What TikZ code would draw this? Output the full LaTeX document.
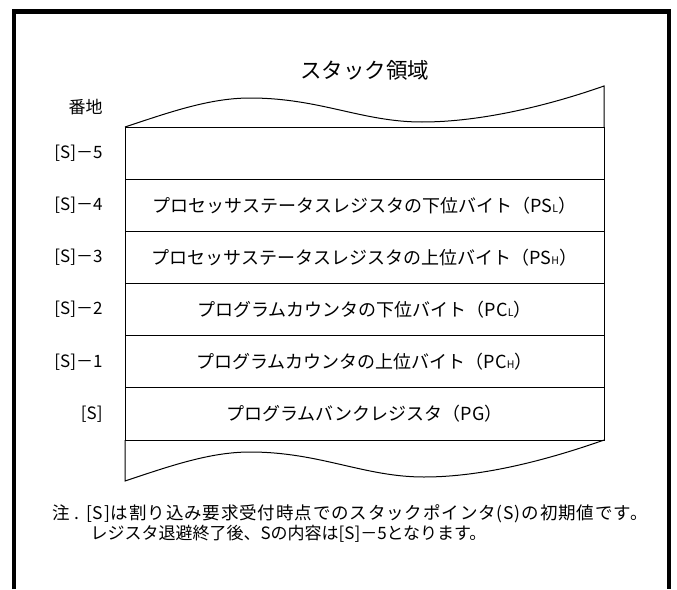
\documentclass[tikz,border=0pt]{standalone}
\usepackage{fontspec}
\setmainfont{Noto Sans CJK JP}
\newfontfamily\spacedjp[LetterSpace=5]{Noto Sans CJK JP}
\usetikzlibrary{positioning}

% small letter for the byte half (L / H)
\newcommand{\byteh}[1]{{\fontsize{10.5}{10.5}\selectfont #1}}

\begin{document}
\begin{tikzpicture}[x=1pt,y=-1pt,line width=1pt,
    cell/.style={draw,minimum width=479pt,minimum height=52.17pt,
                 inner sep=0pt,outer sep=0pt,font=\fontsize{18}{20}\selectfont},
    addr/.style={left=22pt of #1,inner sep=0pt,font=\fontsize{17}{20}\selectfont},
    note/.style={anchor=west,inner sep=0pt,font=\fontsize{17}{20}\selectfont}]
    \useasboundingbox (0,0) rectangle (677,589);

    % frame, open at the bottom
    \draw[line width=4.5pt] (14,589) -- (14,11.5) -- (669,11.5) -- (669,589);

    \node[font=\fontsize{21.5}{24}\selectfont] (title) at (364.5,70) {スタック領域};
    \node[anchor=east,inner sep=0pt,font=\fontsize{17}{20}\selectfont] (head) at (103,107) {番地};

    % stack cells
    \node[cell] (s5) at (364.5,153.1) {};
    \node[cell,below=0pt of s5] (s4) {プロセッサステータスレジスタの下位バイト（PS\byteh{L}）};
    \node[cell,below=0pt of s4] (s3) {プロセッサステータスレジスタの上位バイト（PS\byteh{H}）};
    \node[cell,below=0pt of s3] (s2) {プログラムカウンタの下位バイト（PC\byteh{L}）};
    \node[cell,below=0pt of s2] (s1) {プログラムカウンタの上位バイト（PC\byteh{H}）};
    \node[cell,below=0pt of s1] (s0) {プログラムバンクレジスタ（PG）};

    % torn edges
    \draw (s5.north west) .. controls +(45,-15) and +(-40,0) .. (250,98)
          .. controls +(70,0) and +(-60,0) .. (422,122)
          .. controls +(60,0) and +(-54,19) .. (604,86) -- (s5.north east);
    \draw (s0.south west) -- (125,481) .. controls +(45,-15) and +(-40,0) .. (250,452)
          .. controls +(70,0) and +(-60,0) .. (424,477)
          .. controls +(60,0) and +(-54,19) .. (s0.south east);

    % addresses
    \node[addr=s5] (a5) {[S]－5};
    \node[addr=s4] (a4) {[S]－4};
    \node[addr=s3] (a3) {[S]－3};
    \node[addr=s2] (a2) {[S]－2};
    \node[addr=s1] (a1) {[S]－1};
    \node[addr=s0] (a0) {[S]};

    \node[note,font=\fontsize{17.5}{20}\selectfont] (note1) at (52,514) {\spacedjp 注 . [S]は割り込み要求受付時点でのスタックポインタ(S)の初期値です。};
    \node[note] (note2) at (90,534) {レジスタ退避終了後、Sの内容は[S]－5となります。};
\end{tikzpicture}
\end{document}
